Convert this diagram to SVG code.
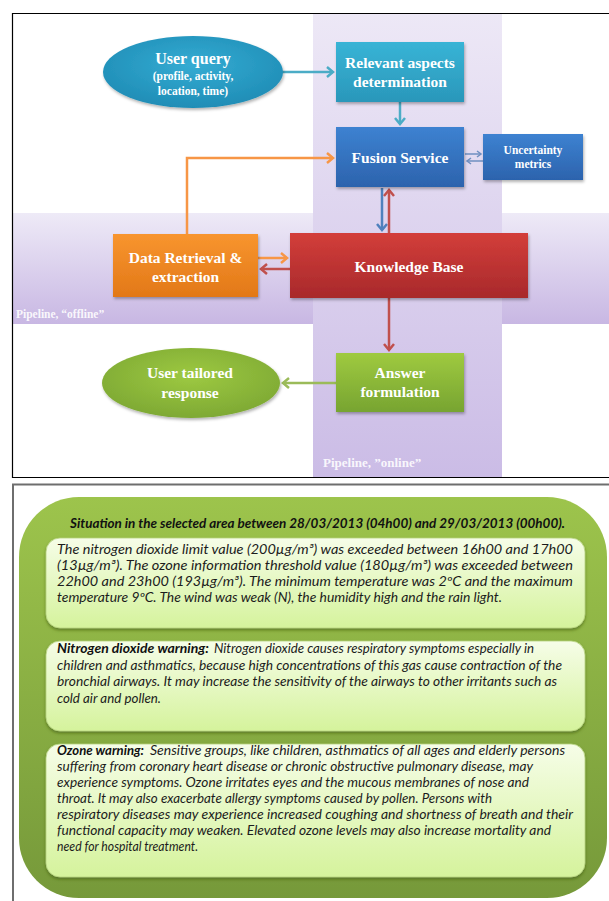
<svg xmlns="http://www.w3.org/2000/svg" width="609" height="901" viewBox="0 0 609 901">
<style>
.t{font-family:"Liberation Serif","Times New Roman",serif;font-weight:bold;fill:#fff;text-anchor:middle}
.pl{font-family:"Liberation Serif","Times New Roman",serif;font-weight:bold;fill:#fff;fill-opacity:.9}
.b{font-family:Lato,"Open Sans",sans-serif;font-style:italic;font-size:13px;fill:#1c1c1c}
.bb{font-family:Lato,"Open Sans",sans-serif;font-style:italic;font-weight:bold;font-size:13px;fill:#111}
.c{fill:none;stroke-width:2.5}
.inner{fill:url(#gInner);stroke:#b5d27c;stroke-width:.8;filter:url(#sh2)}
</style>
<defs>
<linearGradient id="gH" x1="0" y1="0" x2="0" y2="1"><stop offset="0" stop-color="#eeeaf7"/><stop offset="1" stop-color="#c8b7e3"/></linearGradient>
<linearGradient id="gV" x1="0" y1="0" x2="0" y2="1"><stop offset="0" stop-color="#ede8f6"/><stop offset="1" stop-color="#cbbce6"/></linearGradient>
<linearGradient id="gTeal" x1="0" y1="0" x2="0" y2="1"><stop offset="0" stop-color="#38b4d6"/><stop offset="1" stop-color="#2a97ba"/></linearGradient>
<radialGradient id="gTealE" cx=".5" cy=".4" r=".6"><stop offset="0" stop-color="#35acd3"/><stop offset="1" stop-color="#1f8db6"/></radialGradient>
<linearGradient id="gBlue" x1="0" y1="0" x2="0" y2="1"><stop offset="0" stop-color="#3d82d1"/><stop offset="1" stop-color="#2c63ad"/></linearGradient>
<linearGradient id="gRed" x1="0" y1="0" x2="0" y2="1"><stop offset="0" stop-color="#d33e3a"/><stop offset="1" stop-color="#a8292b"/></linearGradient>
<linearGradient id="gOr" x1="0" y1="0" x2="0" y2="1"><stop offset="0" stop-color="#f8952f"/><stop offset="1" stop-color="#e27817"/></linearGradient>
<linearGradient id="gGr" x1="0" y1="0" x2="0" y2="1"><stop offset="0" stop-color="#9fca40"/><stop offset="1" stop-color="#77a431"/></linearGradient>
<radialGradient id="gGrE" cx=".5" cy=".4" r=".6"><stop offset="0" stop-color="#9dc941"/><stop offset="1" stop-color="#7ea934"/></radialGradient>
<linearGradient id="gOuter" x1="0" y1="0" x2="0" y2="1"><stop offset="0" stop-color="#9dc44c"/><stop offset="1" stop-color="#76993a"/></linearGradient>
<linearGradient id="gInner" x1="0" y1="0" x2="0" y2="1"><stop offset="0" stop-color="#f6fde8"/><stop offset="1" stop-color="#d5f39c"/></linearGradient>
<filter id="sh" x="-10%" y="-10%" width="120%" height="130%"><feDropShadow dx="1" dy="2" stdDeviation="1.5" flood-color="#000" flood-opacity=".3"/></filter>
<filter id="sh2" x="-5%" y="-5%" width="110%" height="115%"><feDropShadow dx="0" dy="2" stdDeviation="1.5" flood-color="#3f5c18" flood-opacity=".6"/></filter>
<marker id="mTeal" markerUnits="userSpaceOnUse" markerWidth="12" markerHeight="12" refX="6" refY="5" orient="auto" overflow="visible"><path d="M0,0 L6,5 L0,10" fill="none" stroke="#4bacc6" stroke-width="2.5"/></marker>
<marker id="mOr" markerUnits="userSpaceOnUse" markerWidth="12" markerHeight="12" refX="6" refY="5" orient="auto" overflow="visible"><path d="M0,0 L6,5 L0,10" fill="none" stroke="#f79646" stroke-width="2.5"/></marker>
<marker id="mBlue" markerUnits="userSpaceOnUse" markerWidth="12" markerHeight="12" refX="6" refY="5" orient="auto" overflow="visible"><path d="M0,0 L6,5 L0,10" fill="none" stroke="#4f81bd" stroke-width="2.5"/></marker>
<marker id="mRed" markerUnits="userSpaceOnUse" markerWidth="12" markerHeight="12" refX="6" refY="5" orient="auto" overflow="visible"><path d="M0,0 L6,5 L0,10" fill="none" stroke="#c0504d" stroke-width="2.5"/></marker>
<marker id="mGreen" markerUnits="userSpaceOnUse" markerWidth="12" markerHeight="12" refX="6" refY="5" orient="auto" overflow="visible"><path d="M0,0 L6,5 L0,10" fill="none" stroke="#9bbb59" stroke-width="2.5"/></marker>
<marker id="mSm" markerUnits="userSpaceOnUse" markerWidth="8" markerHeight="8" refX="4" refY="3" orient="auto" overflow="visible"><path d="M0,0 L4,3 L0,6" fill="none" stroke="#6f8fc0" stroke-width="1.5"/></marker>
</defs>

<rect width="609" height="901" fill="#fff"/>

<!-- top panel -->
<g id="pipelines">
<rect x="13" y="213" width="596" height="111" fill="url(#gH)"/>
<rect x="313" y="14" width="189" height="463" fill="url(#gV)"/>
<text class="pl" x="16" y="318" font-size="11.5">Pipeline, “offline”</text>
<text class="pl" x="323" y="467" font-size="13">Pipeline, ”online”</text>
</g>
<path d="M610,13.5 H12.5 V477.5 H610" fill="none" stroke="#000" stroke-width="1.2"/>

<g id="connectors">
<path class="c" d="M282,72 H333" stroke="#4bacc6" marker-end="url(#mTeal)"/>
<path class="c" d="M400,102 V124" stroke="#4bacc6" marker-end="url(#mTeal)"/>
<path class="c" d="M187,234 V158 H333" stroke="#f79646" marker-end="url(#mOr)"/>
<path d="M465,154 H481" fill="none" stroke="#6f8fc0" stroke-width="1.5" marker-end="url(#mSm)"/>
<path d="M483,161 H467" fill="none" stroke="#6f8fc0" stroke-width="1.5" marker-end="url(#mSm)"/>
<path class="c" d="M382,188 V230" stroke="#4f81bd" marker-end="url(#mBlue)"/>
<path class="c" d="M389,233 V190" stroke="#c0504d" marker-end="url(#mRed)"/>
<path class="c" d="M258,258 H287" stroke="#f79646" marker-end="url(#mOr)"/>
<path class="c" d="M290,269 H261" stroke="#c0504d" marker-end="url(#mRed)"/>
<path class="c" d="M389,298 V350" stroke="#c0504d" marker-end="url(#mRed)"/>
<path class="c" d="M336,383 H283" stroke="#9bbb59" marker-end="url(#mGreen)"/>
</g>

<g id="user-query">
<ellipse cx="193" cy="72" rx="90" ry="36" fill="url(#gTealE)" filter="url(#sh)"/>
<text class="t" x="193" y="64" font-size="16">User query</text>
<text class="t" x="193" y="80" font-size="11.5">(profile, activity,</text>
<text class="t" x="193" y="95" font-size="11.5">location, time)</text>
</g>
<g id="relevant-aspects">
<rect x="336" y="42" width="128" height="60" fill="url(#gTeal)" filter="url(#sh)"/>
<text class="t" x="400" y="68" font-size="15.5">Relevant aspects</text>
<text class="t" x="400" y="87" font-size="15.5">determination</text>
</g>
<g id="fusion-service">
<rect x="336" y="127" width="128" height="60" fill="url(#gBlue)" filter="url(#sh)"/>
<text class="t" x="400" y="163" font-size="15.5">Fusion Service</text>
</g>
<g id="uncertainty-metrics">
<rect x="483" y="134" width="100" height="46" fill="url(#gBlue)" filter="url(#sh)"/>
<text class="t" x="533" y="154" font-size="11.5">Uncertainty</text>
<text class="t" x="533" y="168" font-size="11.5">metrics</text>
</g>
<g id="knowledge-base">
<rect x="290" y="233" width="238" height="65" fill="url(#gRed)" filter="url(#sh)"/>
<text class="t" x="409" y="272" font-size="15.5">Knowledge Base</text>
</g>
<g id="data-retrieval">
<rect x="113" y="234" width="145" height="63" fill="url(#gOr)" filter="url(#sh)"/>
<text class="t" x="185.5" y="263" font-size="15.5">Data Retrieval &amp;</text>
<text class="t" x="185.5" y="282" font-size="15.5">extraction</text>
</g>
<g id="answer-formulation">
<rect x="336" y="353" width="128" height="59" fill="url(#gGr)" filter="url(#sh)"/>
<text class="t" x="400" y="378" font-size="15.5">Answer</text>
<text class="t" x="400" y="397" font-size="15.5">formulation</text>
</g>
<g id="user-tailored-response">
<ellipse cx="191" cy="383" rx="89" ry="35" fill="url(#gGrE)" filter="url(#sh)"/>
<text class="t" x="190" y="378" font-size="15.5">User tailored</text>
<text class="t" x="190" y="398" font-size="15.5">response</text>
</g>

<!-- bottom panel -->
<path d="M610,484.5 H13 V901" fill="none" stroke="#6e6e6e" stroke-width="2"/>
<g id="answer-panel">
<rect x="19" y="497" width="588" height="401" rx="60" ry="60" fill="url(#gOuter)"/>
<text class="bb" x="70" y="528" textLength="495" lengthAdjust="spacingAndGlyphs">Situation in the selected area between 28/03/2013 (04h00) and 29/03/2013 (00h00).</text>
</g>
<g id="situation">
<rect class="inner" x="46" y="538" width="539" height="90" rx="14"/>
<text class="b" x="57" y="554" textLength="516" lengthAdjust="spacingAndGlyphs">The nitrogen dioxide limit value (200µg/m³) was exceeded between 16h00 and 17h00</text>
<text class="b" x="57" y="570" textLength="516" lengthAdjust="spacingAndGlyphs">(13µg/m³). The ozone information threshold value (180µg/m³) was exceeded between</text>
<text class="b" x="57" y="586" textLength="516" lengthAdjust="spacingAndGlyphs">22h00 and 23h00 (193µg/m³). The minimum temperature was 2ºC and the maximum</text>
<text class="b" x="57" y="602" textLength="445" lengthAdjust="spacingAndGlyphs">temperature 9ºC. The wind was weak (N), the humidity high and the rain light.</text>
</g>
<g id="no2-warning">
<rect class="inner" x="46" y="641" width="539" height="90" rx="14"/>
<text class="bb" x="57" y="653" textLength="152" lengthAdjust="spacingAndGlyphs">Nitrogen dioxide warning:</text>
<text class="b" x="214" y="653" textLength="320" lengthAdjust="spacingAndGlyphs">Nitrogen dioxide causes respiratory symptoms especially in</text>
<text class="b" x="57" y="669.5" textLength="505" lengthAdjust="spacingAndGlyphs">children and asthmatics, because high concentrations of this gas cause contraction of the</text>
<text class="b" x="57" y="686" textLength="500" lengthAdjust="spacingAndGlyphs">bronchial airways. It may increase the sensitivity of the airways to other irritants such as</text>
<text class="b" x="57" y="702.5" textLength="104" lengthAdjust="spacingAndGlyphs">cold air and pollen.</text>
</g>
<g id="ozone-warning">
<rect class="inner" x="46" y="744" width="539" height="133" rx="14"/>
<text class="bb" x="57" y="755" textLength="87" lengthAdjust="spacingAndGlyphs">Ozone warning:</text>
<text class="b" x="150" y="755" textLength="415" lengthAdjust="spacingAndGlyphs">Sensitive groups, like children, asthmatics of all ages and elderly persons</text>
<text class="b" x="57" y="771" textLength="476" lengthAdjust="spacingAndGlyphs">suffering from coronary heart disease or chronic obstructive pulmonary disease, may</text>
<text class="b" x="57" y="787" textLength="472" lengthAdjust="spacingAndGlyphs">experience symptoms. Ozone irritates eyes and the mucous membranes of nose and</text>
<text class="b" x="57" y="803" textLength="435" lengthAdjust="spacingAndGlyphs">throat. It may also exacerbate allergy symptoms caused by pollen. Persons with</text>
<text class="b" x="57" y="819" textLength="516" lengthAdjust="spacingAndGlyphs">respiratory diseases may experience increased coughing and shortness of breath and their</text>
<text class="b" x="57" y="835" textLength="494" lengthAdjust="spacingAndGlyphs">functional capacity may weaken. Elevated ozone levels may also increase mortality and</text>
<text class="b" x="57" y="851" textLength="141" lengthAdjust="spacingAndGlyphs">need for hospital treatment.</text>
</g>
</svg>
